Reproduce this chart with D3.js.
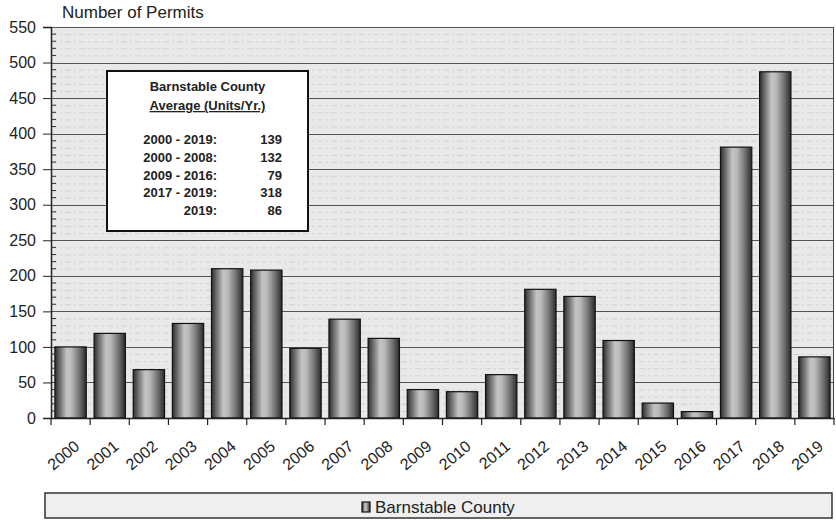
<!DOCTYPE html>
<html><head><meta charset="utf-8">
<script src="https://cdn.jsdelivr.net/npm/d3@7"></script>
<style>body{margin:0;background:#fff}svg{display:block;font-family:"Liberation Sans",Arial,sans-serif}</style>
</head><body>
<svg id="c" width="836" height="520"></svg>
<script>
const years = ["2000","2001","2002","2003","2004","2005","2006","2007","2008","2009","2010","2011","2012","2013","2014","2015","2016","2017","2018","2019"];
const permits = [100,119,68,133,210,208,98,139,112,40,37,61,181,171,109,21,9,381,487,86];
const yTicks = [0,50,100,150,200,250,300,350,400,450,500,550];
const avgLabels = ["2000 - 2019:","2000 - 2008:","2009 - 2016:","2017 - 2019:","2019:"];
const avgValues = [139,132,79,318,86];
const seriesName = "Barnstable County";

const svg = d3.select("#c");
const L = 51, R = 834, T = 27, B = 418;
const x = d3.scaleBand().domain(years).range([L, R]).paddingInner(0.2).paddingOuter(0.1);
const y = d3.scaleLinear().domain([0, 550]).range([B, T]);

const defs = svg.append("defs");
const g = defs.append("linearGradient").attr("id","bar").attr("x1","0").attr("x2","1").attr("y1","0").attr("y2","0");
[[0,"#2e2e2e"],[0.12,"#5e5e5e"],[0.38,"#c4c4c4"],[0.52,"#bababa"],[0.78,"#727272"],[1,"#2a2a2a"]]
  .forEach(([o,c])=>g.append("stop").attr("offset",o).attr("stop-color",c));

// plot background
svg.append("rect").attr("x",L).attr("y",T).attr("width",R-L).attr("height",B-T).attr("fill","#e9e9e9");
// faint texture lines
d3.range(0,550,10).forEach(v=>{
  if (v%50===0) return;
  svg.append("line").attr("x1",L).attr("x2",R).attr("y1",y(v)+0.5).attr("y2",y(v)+0.5)
    .attr("stroke","#d2d2d2").attr("stroke-width",1).attr("stroke-dasharray","6,3,2,3");
});
// major gridlines
svg.append("g").selectAll("line").data(yTicks.filter(v=>v>0)).join("line")
  .attr("x1",L).attr("x2",R).attr("y1",d=>Math.round(y(d))+0.5).attr("y2",d=>Math.round(y(d))+0.5)
  .attr("stroke","#555").attr("stroke-width",1);
// right border
svg.append("line").attr("x1",R-0.5).attr("x2",R-0.5).attr("y1",T).attr("y2",B).attr("stroke","#444");

// bars
svg.append("g").selectAll("rect").data(years).join("rect")
  .attr("x",d=>x(d)).attr("width",x.bandwidth())
  .attr("y",(d,i)=>y(permits[i])).attr("height",(d,i)=>B-y(permits[i]))
  .attr("fill","url(#bar)").attr("stroke","#111").attr("stroke-width",1.2);

// y axis
const yAxis = d3.axisLeft(y).tickValues(yTicks).tickSize(8).tickPadding(7);
const ya = svg.append("g").attr("transform",`translate(${L},0)`).call(yAxis);
ya.select(".domain").attr("stroke","#222").attr("stroke-width",1.5);
ya.selectAll(".tick line").attr("stroke","#222");
ya.selectAll("text").attr("font-size",16).attr("fill","#222").attr("font-family","Liberation Sans, Arial, sans-serif");
// minor ticks
svg.append("g").selectAll("line").data(d3.range(10,550,10).filter(v=>v%50!==0)).join("line")
  .attr("x1",L).attr("x2",L+5).attr("y1",d=>y(d)).attr("y2",d=>y(d)).attr("stroke","#333");

// x axis
const xAxis = d3.axisBottom(x).tickSize(0).tickFormat("");
const xa = svg.append("g").attr("transform",`translate(0,${B})`).call(xAxis);
xa.select(".domain").attr("stroke","#222").attr("stroke-width",1.5);
// boundary ticks
const step = x.step();
svg.append("g").selectAll("line").data(d3.range(years.length+1)).join("line")
  .attr("x1",i=>x(years[0]) - (step - x.bandwidth())/2 + i*step)
  .attr("x2",i=>x(years[0]) - (step - x.bandwidth())/2 + i*step)
  .attr("y1",B).attr("y2",B+7).attr("stroke","#222").attr("stroke-width",1.2);
svg.append("g").selectAll("text").data(years).join("text")
  .attr("transform",d=>`translate(${x(d)+x.bandwidth()/2+10},${B+30}) rotate(-40)`)
  .attr("text-anchor","end").attr("font-size",16).attr("fill","#222").text(d=>d);

// axis title
svg.append("text").attr("x",62).attr("y",18).attr("font-size",17).attr("fill","#222").text("Number of Permits");

// average text box
const bx = 107, by = 71, bw = 201, bh = 160;
svg.append("rect").attr("x",bx).attr("y",by).attr("width",bw).attr("height",bh)
  .attr("fill","#fff").attr("stroke","#111").attr("stroke-width",2);
svg.append("text").attr("x",bx+bw/2).attr("y",91).attr("text-anchor","middle")
  .attr("font-size",13).attr("font-weight","bold").attr("fill","#222").text("Barnstable County");
svg.append("text").attr("x",bx+bw/2).attr("y",110).attr("text-anchor","middle")
  .attr("font-size",13).attr("font-weight","bold").attr("fill","#222")
  .attr("text-decoration","underline").text("Average (Units/Yr.)");
svg.append("g").selectAll("text").data(avgLabels).join("text")
  .attr("x",217).attr("y",(d,i)=>144+i*17.8).attr("text-anchor","end")
  .attr("font-size",13).attr("font-weight","bold").attr("fill","#222").text(d=>d);
svg.append("g").selectAll("text").data(avgValues).join("text")
  .attr("x",282).attr("y",(d,i)=>144+i*17.8).attr("text-anchor","end")
  .attr("font-size",13).attr("font-weight","bold").attr("fill","#222").text(d=>d);

// legend
svg.append("rect").attr("x",45).attr("y",493).attr("width",787).attr("height",25)
  .attr("fill","#efefef").attr("stroke","#333").attr("stroke-width",1.5);
svg.append("rect").attr("x",362).attr("y",502).attr("width",8).attr("height",10)
  .attr("fill","url(#bar)").attr("stroke","#111").attr("stroke-width",1.2);
svg.append("text").attr("x",375).attr("y",513).attr("font-size",17).attr("fill","#222").text(seriesName);
</script>
</body></html>
